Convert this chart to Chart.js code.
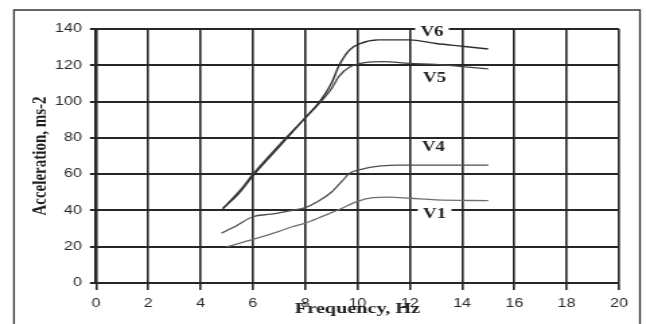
<!DOCTYPE html>
<html>
<head>
<meta charset="utf-8">
<script src="https://cdn.jsdelivr.net/npm/chart.js@4"></script>
<style>
  html, body { margin: 0; padding: 0; background: #fff; overflow: hidden; }
  /* the scanned original is stretched sideways, so draw narrow and widen */
  #wrap { width: 480px; height: 324px; transform: scaleX(1.34583); transform-origin: 0 0; }
</style>
</head>
<body>
<div id="wrap"><canvas id="accChart" width="480" height="324"></canvas></div>
<script>
// ── Data ────────────────────────────────────────────────────────────────────
const v6Freq = [4.85, 5.5, 6, 7, 8, 8.5, 9, 9.3, 9.7, 10.1, 10.8, 12, 13, 14, 15];
const v6Acc  = [41, 50, 59, 75, 91, 99, 110, 120, 128.5, 132, 134, 134, 132, 130.5, 129];

const v5Freq = [4.85, 5.5, 6, 7, 8, 8.6, 9, 9.3, 9.7, 10.3, 11, 12, 13, 14, 15];
const v5Acc  = [41, 51, 60, 76, 91, 100, 107, 114, 119, 121.5, 122, 121, 120.5, 119.3, 118];

const v4Freq = [4.8, 5.3, 6, 6.7, 7.4, 8, 8.5, 9, 9.4, 9.7, 10.1, 10.9, 11.6, 13, 15];
const v4Acc  = [27.5, 31, 36.5, 38, 39.8, 41.5, 45, 50, 56, 60.5, 62.5, 64.5, 65, 65, 65];

const v1Freq = [5, 6, 7, 7.5, 8, 8.7, 9.3, 10, 10.6, 11.2, 12, 13, 15];
const v1Acc  = [20, 24, 28.5, 31, 33, 37, 40.5, 45, 47, 47.3, 46.7, 45.8, 45.4];

const seriesNames = ['V6', 'V5', 'V4', 'V1'];
const labelFreq   = [12.85, 12.95, 12.9, 12.95];
const labelAcc    = [138.5, 113.5, 75.5, 38.5];

const xTicks = [0, 2, 4, 6, 8, 10, 12, 14, 16, 18, 20];
const yTicks = [0, 20, 40, 60, 80, 100, 120, 140];

const pts = (xs, ys) => xs.map((x, i) => ({ x, y: ys[i] }));

// ── Curve labels + outer frame ──────────────────────────────────────────────
const extras = {
  id: 'extras',
  afterDatasetsDraw(chart) {
    const { ctx, scales: { x, y } } = chart;
    ctx.save();
    ctx.font = 'bold 14px "Liberation Serif", serif';
    ctx.textAlign = 'center';
    ctx.textBaseline = 'middle';
    seriesNames.forEach((name, i) => {
      const px = x.getPixelForValue(labelFreq[i]);
      const py = y.getPixelForValue(labelAcc[i]);
      if (name === 'V6' || name === 'V1') {
        ctx.fillStyle = '#fff';
        ctx.fillRect(px - 12.5, py - 5, 25, 10);
      }
      ctx.fillStyle = '#222';
      ctx.fillText(name, px, py + 1);
    });
    ctx.restore();
  },
  afterDraw(chart) {
    const { ctx } = chart;
    ctx.save();
    ctx.strokeStyle = '#333';
    ctx.lineWidth = 1.3;
    ctx.beginPath();
    ctx.moveTo(10.4, 330);
    ctx.lineTo(10.4, 10);
    ctx.lineTo(475.5, 10);
    ctx.lineTo(475.5, 330);
    ctx.stroke();
    ctx.restore();
  }
};

const line = (data, color, width) => ({
  data, borderColor: color, borderWidth: width, pointRadius: 0,
  fill: false, cubicInterpolationMode: 'monotone'
});

new Chart(document.getElementById('accChart'), {
  type: 'line',
  data: {
    datasets: [
      line(pts(v6Freq, v6Acc), '#2e2e2e', 1.4),
      line(pts(v5Freq, v5Acc), '#444', 1.3),
      line(pts(v4Freq, v4Acc), '#4e4e4e', 1.3),
      line(pts(v1Freq, v1Acc), '#6e6e6e', 1.3)
    ]
  },
  options: {
    responsive: false,
    animation: false,
    layout: { padding: { top: 29, right: 20.1, bottom: 0, left: 0 } },
    plugins: { legend: { display: false }, tooltip: { enabled: false } },
    scales: {
      x: {
        type: 'linear', min: 0, max: 20,
        afterFit: s => { s.height = 41; },
        afterBuildTicks: s => { s.ticks = xTicks.map(v => ({ value: v })); },
        grid: { color: '#262626', lineWidth: 1.6, tickLength: 7, tickColor: '#262626' },
        border: { color: '#262626', width: 1.6 },
        ticks: { color: '#2a2a2a', padding: 6, maxRotation: 0, font: { family: '"Liberation Sans", Arial', size: 12 } },
        title: {
          display: true, text: 'Frequency, Hz', color: '#1e1e1e',
          padding: { top: 0, bottom: 5.4 },
          font: { family: '"Liberation Serif", serif', size: 15, weight: 'bold' }
        }
      },
      y: {
        type: 'linear', min: 0, max: 140,
        afterFit: s => { s.width = 71.33; },
        afterBuildTicks: s => { s.ticks = yTicks.map(v => ({ value: v })); },
        grid: { color: '#262626', lineWidth: 2, tickLength: 4.5, tickColor: '#262626' },
        border: { color: '#262626', width: 2 },
        ticks: { color: '#2a2a2a', padding: 6, font: { family: '"Liberation Sans", Arial', size: 12 } },
        title: {
          display: true, text: 'Acceleration, ms-2', color: '#1e1e1e',
          padding: { top: 21.5, bottom: 0 },
          font: { family: '"Liberation Serif", serif', size: 15, weight: 'bold' }
        }
      }
    }
  },
  plugins: [extras]
});
</script>
</body>
</html>
